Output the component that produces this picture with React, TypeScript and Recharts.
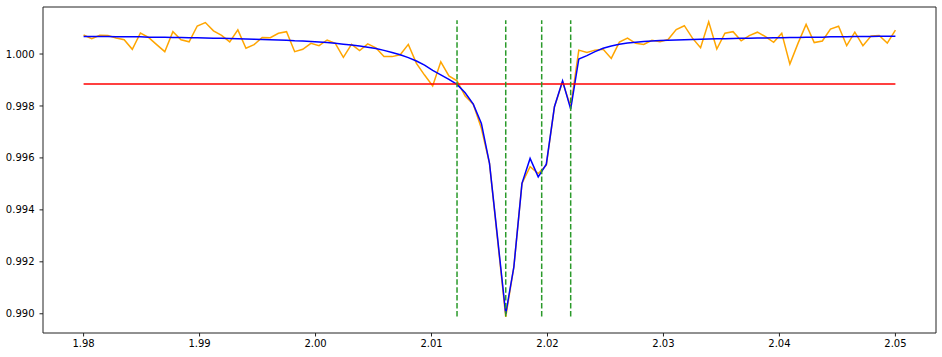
import { LineChart, Line, XAxis, YAxis, ReferenceLine } from 'recharts';

// sampling grid
const X_START = 1.98;
const X_STEP = 0.0007;

// measured (orange)
const observed = [
  1.00073, 1.00059, 1.00072, 1.00071, 1.00062, 1.00055, 1.00018, 1.00081, 1.00064, 1.00036,
  1.00009, 1.00086, 1.00055, 1.00047, 1.00108, 1.00121, 1.00089, 1.00072, 1.00047, 1.00093,
  1.00022, 1.00036, 1.00064, 1.00063, 1.0008, 1.00086, 1.00009, 1.00018, 1.00041, 1.00032,
  1.00054, 1.00041, 0.99987, 1.00037, 1.00013, 1.00039, 1.00024, 0.9999, 0.9999, 0.99997,
  1.00037, 0.99964, 0.99919, 0.99877, 0.9997, 0.99916, 0.99897, 0.99838, 0.99807, 0.99714,
  0.99579, 0.99283, 0.98988, 0.9918, 0.99502, 0.99566, 0.9954, 0.99572, 0.99797, 0.99893,
  0.99797, 1.00015, 1.00006, 1.00015, 1.00018, 0.99983, 1.00046, 1.00061, 1.00041, 1.00037,
  1.00053, 1.00047, 1.00056, 1.00094, 1.00109, 1.00061, 1.00024, 1.00124, 1.00019, 1.0008,
  1.00086, 1.00051, 1.00071, 1.00084, 1.00067, 1.00045, 1.0008, 0.99961, 1.00041, 1.00114,
  1.00044, 1.0005, 1.00096, 1.00107, 1.00032, 1.00084, 1.00032, 1.00069, 1.00071, 1.00042,
  1.00092,
];

// model fit (blue)
const fitted = [
  1.00067, 1.00067, 1.00067, 1.00067, 1.00066, 1.00066, 1.00066, 1.00066, 1.00065, 1.00065,
  1.00065, 1.00064, 1.00064, 1.00063, 1.00063, 1.00062, 1.00061, 1.00061, 1.0006, 1.00059,
  1.00058, 1.00057, 1.00056, 1.00055, 1.00054, 1.00053, 1.00051, 1.0005, 1.00048, 1.00046,
  1.00044, 1.00041, 1.00038, 1.00035, 1.00031, 1.00026, 1.00021, 1.00014, 1.00006, 0.99997,
  0.99986, 0.99973, 0.99957, 0.99937, 0.9992, 0.99902, 0.99883, 0.99851, 0.99807, 0.99733,
  0.99579, 0.9929, 0.99, 0.9918, 0.99502, 0.99598, 0.99527, 0.99576, 0.99797, 0.99897,
  0.99788, 0.99981, 0.99994, 1.00009, 1.00022, 1.00031, 1.00038, 1.00042, 1.00045, 1.00048,
  1.0005, 1.00052, 1.00053, 1.00054, 1.00055, 1.00056, 1.00057, 1.00058, 1.00059, 1.00059,
  1.0006, 1.00061, 1.00061, 1.00062, 1.00062, 1.00063, 1.00063, 1.00064, 1.00064, 1.00065,
  1.00065, 1.00065, 1.00066, 1.00066, 1.00066, 1.00067, 1.00067, 1.00067, 1.00068, 1.00068,
  1.00068,
];

const threshold = 0.998844;
const thresholdRange = [1.98, 2.05];
const markers = [2.0122, 2.0164, 2.0195, 2.022];
const markerRange = [0.9899, 1.0013];

const xTicks = [1.98, 1.99, 2.0, 2.01, 2.02, 2.03, 2.04, 2.05];
const yTicks = [0.99, 0.992, 0.994, 0.996, 0.998, 1.0];
const xDomain = [1.9765, 2.0535];
const yDomain = [0.98926, 1.00181];

const data = observed.map((v, i) => ({
  x: +(X_START + i * X_STEP).toFixed(4),
  obs: v,
  fit: fitted[i],
}));

const tickStyle = { fontSize: 10, fill: '#000', fontFamily: 'DejaVu Sans' };
const axisStroke = { stroke: '#222', strokeWidth: 1 };

export default function App() {
  return (
    <div style={{ position: 'absolute', left: 0, top: 0, width: 942, height: 357, background: '#fff' }}>
      <LineChart width={942} height={357} data={data} margin={{ top: 7, right: 6, left: 0, bottom: 0 }}>
        <XAxis
          dataKey="x"
          type="number"
          domain={xDomain}
          ticks={xTicks}
          allowDataOverflow
          tickFormatter={(v) => v.toFixed(2)}
          tick={tickStyle}
          tickSize={3.5}
          tickMargin={3}
          axisLine={axisStroke}
          tickLine={axisStroke}
          height={24}
        />
        <YAxis
          type="number"
          domain={yDomain}
          ticks={yTicks}
          allowDataOverflow
          tickFormatter={(v) => v.toFixed(3)}
          tick={tickStyle}
          tickSize={3.5}
          tickMargin={5}
          axisLine={axisStroke}
          tickLine={axisStroke}
          width={43}
        />
        {/* top and right frame */}
        <ReferenceLine y={yDomain[1]} stroke="#222" strokeWidth={1} ifOverflow="visible" />
        <ReferenceLine x={xDomain[1]} stroke="#222" strokeWidth={1} ifOverflow="visible" />
        <Line dataKey="obs" stroke="#FFA500" strokeWidth={1.5} dot={false} isAnimationActive={false} />
        <Line dataKey="fit" stroke="#0000FF" strokeWidth={1.5} dot={false} isAnimationActive={false} />
        <ReferenceLine
          segment={[
            { x: thresholdRange[0], y: threshold },
            { x: thresholdRange[1], y: threshold },
          ]}
          stroke="#FF0000"
          strokeWidth={1.5}
        />
        {markers.map((m) => (
          <ReferenceLine
            key={m}
            segment={[
              { x: m, y: markerRange[0] },
              { x: m, y: markerRange[1] },
            ]}
            stroke="#2a9a2a"
            strokeWidth={1.5}
            strokeDasharray="5.5 2.4"
          />
        ))}
      </LineChart>
    </div>
  );
}
